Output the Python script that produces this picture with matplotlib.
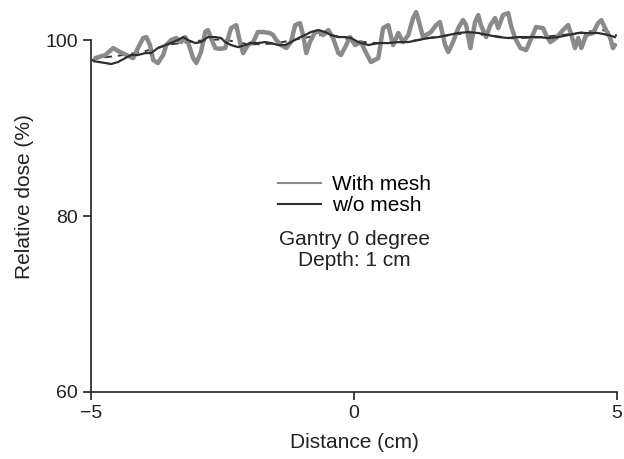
import matplotlib
matplotlib.use('Agg')
import matplotlib.pyplot as plt
from matplotlib.lines import Line2D

plt.rcParams['font.family'] = ['Liberation Sans', 'DejaVu Sans']

# With mesh (thick grey, oscillating)
mesh_x = [-4.92, -4.73, -4.58, -4.45, -4.33, -4.20, -4.11, -4.01, -3.95, -3.88,
          -3.82, -3.73, -3.63, -3.57, -3.48, -3.38, -3.29, -3.21, -3.16, -3.06,
          -3.00, -2.91, -2.83, -2.78, -2.72, -2.64, -2.55, -2.45, -2.34, -2.24,
          -2.17, -2.11, -2.02, -1.92, -1.83, -1.73, -1.60, -1.54, -1.48, -1.39,
          -1.29, -1.20, -1.12, -1.03, -0.97, -0.91, -0.84, -0.74, -0.65, -0.59,
          -0.49, -0.40, -0.30, -0.25, -0.15, -0.08, 0.02, 0.13, 0.23, 0.32,
          0.46, 0.55, 0.65, 0.74, 0.84, 0.93, 1.03, 1.12, 1.18, 1.25,
          1.31, 1.37, 1.46, 1.56, 1.63, 1.73, 1.79, 1.88, 1.98, 2.07,
          2.13, 2.21, 2.30, 2.36, 2.41, 2.51, 2.59, 2.68, 2.74, 2.83,
          2.93, 2.98, 3.06, 3.16, 3.27, 3.37, 3.46, 3.59, 3.65, 3.73,
          3.84, 3.97, 4.07, 4.13, 4.20, 4.26, 4.32, 4.41, 4.54, 4.64,
          4.70, 4.77, 4.87, 4.92, 4.96]
mesh_y = [97.95, 98.30, 99.09, 98.64, 98.30, 97.95, 99.09, 100.23, 100.34, 99.43,
          97.73, 97.39, 98.30, 99.43, 100.00, 100.23, 99.77, 100.34, 99.77, 97.95,
          97.39, 98.64, 100.91, 101.14, 100.23, 99.09, 99.00, 99.09, 101.36, 101.70,
          99.77, 98.52, 99.43, 99.77, 100.91, 100.91, 100.80, 100.57, 100.00, 99.43,
          99.09, 99.77, 101.70, 101.93, 100.57, 98.52, 99.77, 100.91, 100.91, 100.57,
          101.14, 100.23, 98.52, 98.30, 99.43, 100.34, 99.43, 99.77, 98.52, 97.50,
          97.95, 101.36, 101.70, 99.43, 100.80, 99.77, 100.57, 102.50, 103.18, 101.70,
          100.34, 100.57, 100.91, 101.70, 102.05, 99.43, 98.64, 99.77, 101.36, 102.27,
          101.70, 99.09, 102.05, 102.84, 101.70, 100.34, 101.70, 102.50, 101.36, 102.84,
          103.07, 101.70, 100.23, 99.09, 98.86, 100.23, 101.48, 101.36, 100.57, 99.77,
          100.23, 101.14, 101.70, 100.57, 99.09, 100.23, 99.09, 100.57, 100.80, 101.93,
          102.27, 101.36, 100.23, 99.09, 99.43]

# w/o mesh (dark solid)
nomesh_x = [-4.95, -4.73, -4.62, -4.49, -4.35, -4.24, -4.11, -3.97, -3.86, -3.73,
            -3.59, -3.48, -3.35, -3.25, -3.16, -3.02, -2.91, -2.78, -2.64, -2.53,
            -2.45, -2.34, -2.21, -2.07, -1.96, -1.83, -1.69, -1.58, -1.44, -1.31,
            -1.20, -1.06, -0.93, -0.82, -0.68, -0.55, -0.44, -0.30, -0.17, -0.06,
            0.08, 0.27, 0.46, 0.65, 0.84, 1.03, 1.22, 1.41, 1.60, 1.79,
            1.98, 2.17, 2.36, 2.55, 2.74, 2.93, 3.12, 3.31, 3.50, 3.69,
            3.88, 4.07, 4.26, 4.45, 4.64, 4.83, 4.96]
nomesh_y = [97.60, 97.39, 97.27, 97.50, 97.95, 98.30, 98.30, 98.52, 98.52, 99.09,
            99.43, 99.66, 100.00, 100.34, 100.00, 99.66, 99.77, 100.34, 100.34, 100.23,
            99.77, 99.43, 99.20, 99.43, 99.66, 99.66, 99.77, 99.66, 99.43, 99.43,
            99.77, 100.23, 100.57, 100.91, 101.14, 100.91, 100.57, 100.34, 100.34, 100.23,
            99.77, 99.43, 99.66, 99.66, 99.77, 99.77, 100.00, 100.23, 100.34, 100.57,
            100.80, 100.91, 100.80, 100.57, 100.34, 100.23, 100.34, 100.34, 100.34, 100.23,
            100.34, 100.57, 100.80, 100.80, 100.80, 100.57, 100.34]

# dashed dark companion curve
dash_x = [-5.0, -4.8, -4.5, -4.0, -3.5, -3.0, -2.5, -2.0, -1.5, -1.0, -0.5,
          0.0, 0.5, 1.0, 1.5, 2.0, 2.5, 3.0, 3.5, 4.0, 4.5, 4.7, 5.0]
dash_y = [97.7, 98.0, 98.2, 98.7, 99.5, 99.9, 100.1, 99.5, 99.6, 100.2, 100.7,
          99.9, 99.6, 99.8, 100.3, 100.7, 100.6, 100.2, 100.3, 100.6, 101.0, 101.2, 100.5]

x_ticks = [-5, 0, 5]
x_ticklabels = ['\u22125', '0', '5']
y_ticks = [60, 80, 100]

FS = 15
fig = plt.figure(figsize=(6.24, 4.59), dpi=100)
ax = fig.add_axes([0.146, 0.146, 0.843, 0.853])

ax.plot(dash_x, dash_y, color='#3a3a3a', lw=1.4, ls=(0, (4, 3)), zorder=2)
ax.plot(mesh_x, mesh_y, color='#8a8a8a', lw=3.2, solid_joinstyle='round',
        solid_capstyle='round', zorder=3)
ax.plot(nomesh_x, nomesh_y, color='#2e2e2e', lw=1.6, zorder=4)

ax.set_xlim(-5, 5)
ax.set_ylim(60, 104.5)
ax.set_xticks(x_ticks)
ax.set_xticklabels(x_ticklabels)
ax.set_yticks(y_ticks)
ax.spines['top'].set_visible(False)
ax.spines['right'].set_visible(False)
ax.spines['left'].set_bounds(60, 100)
for s in ['left', 'bottom']:
    ax.spines[s].set_linewidth(1.2)
    ax.spines[s].set_color('#222222')
ax.tick_params(direction='out', length=6, width=1.2, labelsize=14,
               colors='#222222', pad=3.5)
ax.set_xlabel('Distance (cm)', fontsize=FS, color='#222222', labelpad=8)
ax.set_ylabel('Relative dose (%)', fontsize=FS, color='#222222', labelpad=8)

handles = [Line2D([], [], color='#8a8a8a', lw=1.5),
           Line2D([], [], color='#2e2e2e', lw=1.5)]
ax.legend(handles, ['With mesh', 'w/o mesh'], loc='center',
          bbox_to_anchor=(0.5, 0.503), frameon=False, fontsize=FS,
          handlelength=2.1, handletextpad=0.5, labelspacing=0.1)

ax.text(0.0, 77.3, 'Gantry 0 degree', ha='center', va='center',
        fontsize=FS, color='#222222')
ax.text(0.0, 74.9, 'Depth: 1 cm', ha='center', va='center',
        fontsize=FS, color='#222222')

fig.savefig('out.png', dpi=100)
